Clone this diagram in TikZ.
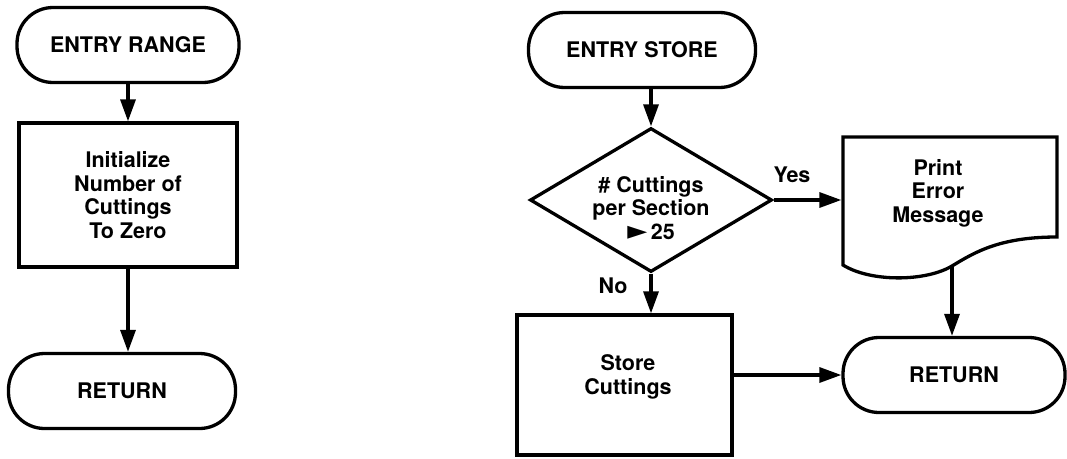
\documentclass[tikz,border=0pt]{standalone}
\usepackage{fontspec}
\setmainfont{TeX Gyre Heros}
\newfontfamily\symfont{DejaVu Sans}
\usetikzlibrary{shapes.geometric,arrows.meta}
\begin{document}
\begin{tikzpicture}[x=1pt,y=-1pt,
  line width=3.3pt,
  every node/.style={font=\fontsize{21.5}{23.5}\selectfont\bfseries, align=center},
  terminal/.style={draw, rectangle, rounded corners=36pt, minimum width=#1,
                   minimum height=75pt, inner sep=0pt},
  procbox/.style={draw, rectangle, inner sep=0pt},
  decision/.style={draw, diamond, inner sep=0pt, minimum width=242pt, minimum height=144pt},
  flow/.style={-{Triangle[length=22pt,width=15pt]}},
  lbl/.style={inner sep=0pt}
]
\useasboundingbox (0,0) rectangle (1067,458);

% ---- subroutine RANGE ----
\node[terminal=222pt] (er) at (128,45) {ENTRY RANGE};
\node[procbox, minimum width=218pt, minimum height=144pt] (init) at (128,195)
  {Initialize\\Number of\\Cuttings\\To Zero};
\node[terminal=227pt] (ret1) at (122,391) {RETURN};

\draw[flow] (er) -- (init);
\draw[flow] (init.south) -- (init.south |- ret1.north);

% ---- subroutine STORE ----
\node[terminal=227pt] (es) at (642,50) {ENTRY STORE};
\node[decision] (dia) at (651,200) {};
\node[lbl] (diatext) at (651,208) {\# Cuttings\\per Section\\{\symfont\fontsize{26}{20}\selectfont ►}\,25};

% printed-document shape with wavy lower edge
\node[minimum width=214pt, minimum height=100pt, inner sep=0pt] (doc) at (950,187) {};
\node[lbl] (doctext) at (938,193) {Print\\Error\\Message};
\coordinate (docout) at (952,266);
\draw (843,137) -- (1057,137) -- (1057,237)
  .. controls (1000,237) and (975,252) .. (docout)
  .. controls (925,282) and (870,282) .. (843,265) -- cycle;

\node[procbox, minimum width=215pt, minimum height=140pt] (store) at (624.5,385) {};
\node[lbl] (storetext) at (628,377) {Store\\Cuttings};
\node[terminal=222pt] (ret2) at (954,375) {RETURN};

\draw[flow] (dia.north |- es.south) -- (dia.north);
\draw[flow] (dia.east) -- (dia.east -| doc.west);
\draw[flow] (dia.south) -- (dia.south |- store.north);
\draw[flow] (docout) -- (docout |- ret2.north);
\draw[flow] (store.east |- ret2.west) -- (ret2.west);

\node[lbl] (yes) at (792,175) {Yes};
\node[lbl] (no) at (613,286) {No};
\end{tikzpicture}
\end{document}
